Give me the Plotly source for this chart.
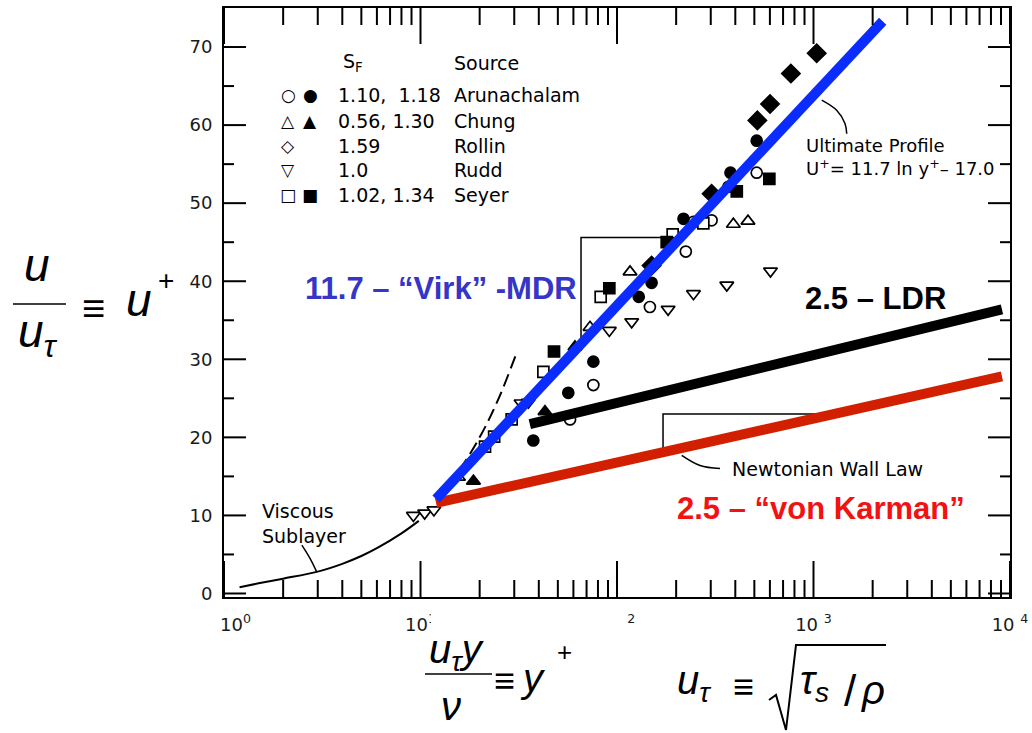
import numpy as np
import plotly.graph_objects as go

W, H = 1032, 733
L, R, T, B = 224, 22, 8, 136
PW, PH = W - L - R, H - T - B

# ---------------- measured profiles: y+ = u_tau*y/nu , u+ = u/u_tau ----------------
arun_open_x = [57.7, 75.8, 147, 224, 245, 303, 369, 514]
arun_open_y = [22.3, 26.7, 36.7, 43.8, 47.6, 47.8, 52.1, 53.9]
arun_fill_x = [37.5, 56.5, 75.8, 129, 150, 218, 303, 378, 514]
arun_fill_y = [19.6, 25.7, 29.7, 38.0, 39.8, 48.0, 51.2, 53.9, 58.0]

chung_open_x = [15.6, 72.9, 116.5, 391, 464]
chung_open_y = [14.9, 34.1, 41.2, 47.3, 47.7]
chung_fill_x = [18.6, 43.0, 61.1]
chung_fill_y = [14.4, 23.3, 31.6]

rollin_x = [150, 303, 518, 601, 767, 1038]
rollin_y = [42.0, 51.2, 60.6, 62.7, 66.6, 69.2]

rudd_x = [9.2, 10.5, 11.7, 32.5, 35.4, 91.4, 118.8, 182, 245, 362, 604]
rudd_y = [10.0, 10.3, 10.7, 24.4, 24.5, 33.7, 34.8, 36.4, 38.4, 39.5, 41.3]

seyer_open_x = [21.3, 23.7, 29.1, 42.2, 82.6, 192, 275]
seyer_open_y = [18.8, 20.1, 22.3, 28.4, 38.0, 46.0, 47.4]
seyer_fill_x = [47.8, 91.4, 179, 407, 596]
seyer_fill_y = [31.0, 39.1, 45.0, 51.5, 53.1]

# ---------------- reference laws ----------------
visc_x = [1.2, 1.5, 2, 3, 4, 5, 6, 8, 9.8]
visc_y = [0.8, 1.3, 1.9, 2.8, 3.8, 4.8, 5.8, 7.7, 9.3]
visc_ext_x = [12, 15, 20, 25, 30.5]
visc_ext_y = [12, 15, 20, 25, 30.5]
mdr_x = [12, 2250]          # u+ = 11.7 ln y+ - 17.0
mdr_y = [12.1, 73.3]
ldr_x = [36, 9100]
ldr_y = [21.7, 36.4]
vk_x = [12, 9100]           # Newtonian wall law
vk_y = [11.6, 27.8]

# slope triangles and leader strokes
mdr_tri_x = [195, 65.6, 65.6]
mdr_tri_y = [45.6, 45.6, 31.9]
vk_tri_x = [1213, 171.5, 171.5]
vk_tri_y = [23.0, 23.0, 18.1]
lead_visc_x = [2.49, 2.74, 2.96]
lead_visc_y = [6.2, 4.5, 2.8]
lead_ult_x = [1101, 1312, 1446, 1476]
lead_ult_y = [63.2, 61.9, 60.2, 58.9]
lead_newt_x = [213.5, 264.6, 334.4]
lead_newt_y = [17.7, 16.4, 16.0]

# axis ranges and ticks
X_LOG_RANGE = [0, 4]
Y_RANGE = [-0.45, 75]
x_tick_vals = [1, 10, 100, 1000, 10000]
x_tick_text = ["\u00a0\u00a0\u00a0\u00a010<sup>0</sup>", "10<sup>1</sup>", "10 <sup>2</sup>",
               "10 <sup>3</sup>", "10 <sup>4</sup>"]
x_minor_vals = [m * 10 ** k for k in range(4) for m in range(2, 10)]
y_major_vals = list(range(0, 71, 10))
y_minor_vals = list(range(5, 71, 10))

# legend table
legend_rows = [
    ("○", "●", "1.10,  1.18", "Arunachalam"),
    ("△", "▲", "0.56, 1.30", "Chung"),
    ("◇", "", "1.59", "Rollin"),
    ("▽", "", "1.0", "Rudd"),
    ("□", "■", "1.02, 1.34", "Seyer"),
]
legend_row_px = [95, 121.5, 146, 170, 195]

SCAN = "DejaVu Sans"
SANS = "Liberation Sans"

fig = go.Figure()


def markers(x, y, symbol, fill, size):
    fig.add_trace(go.Scatter(
        x=x, y=y, mode="markers", hoverinfo="skip", showlegend=False,
        marker=dict(symbol=symbol, size=size, color=fill,
                    line=dict(color="black", width=1.7))))


def curve(x, y, color, width, dash=None, shape="linear"):
    fig.add_trace(go.Scatter(
        x=x, y=y, mode="lines", hoverinfo="skip", showlegend=False,
        line=dict(color=color, width=width, dash=dash, shape=shape)))


# viscous sublayer and its extension
curve(visc_x, visc_y, "black", 2, shape="spline")
curve(visc_ext_x, visc_ext_y, "black", 2, dash="13px,6px", shape="spline")

# data sets
markers(arun_open_x, arun_open_y, "circle", "white", 11)
markers(arun_fill_x, arun_fill_y, "circle", "black", 11)
markers(chung_open_x, chung_open_y, "triangle-up", "white", 12)
markers(chung_fill_x, chung_fill_y, "triangle-up", "black", 12)
markers(rollin_x, rollin_y, "diamond", "black", 14)
markers(rudd_x, rudd_y, "triangle-down", "white", 12)
markers(seyer_open_x, seyer_open_y, "square", "white", 11)
markers(seyer_fill_x, seyer_fill_y, "square", "black", 11)

# slope markers and leaders
curve(mdr_tri_x, mdr_tri_y, "black", 1.5)
curve(vk_tri_x, vk_tri_y, "black", 1.5)
curve(lead_visc_x, lead_visc_y, "black", 1.5, shape="spline")
curve(lead_ult_x, lead_ult_y, "black", 1.5, shape="spline")
curve(lead_newt_x, lead_newt_y, "black", 1.5, shape="spline")

# the three log laws
curve(vk_x, vk_y, "#d21f00", 10)
curve(ldr_x, ldr_y, "black", 10)
curve(mdr_x, mdr_y, "#0a2cff", 10)


def xp(px):
    return (px - L) / PW


def yp(py):
    return (H - B - py) / PH


def note(text, px, py, size, color="black", family=SCAN, xanchor="center", yanchor="middle"):
    fig.add_annotation(text=text, x=xp(px), y=yp(py), xref="paper", yref="paper",
                       showarrow=False, xanchor=xanchor, yanchor=yanchor,
                       font=dict(size=size, color=color, family=family))


def data_note(text, xv, yv, size=19):
    fig.add_annotation(text=text, x=np.log10(xv), y=yv, xref="x", yref="y",
                       showarrow=False, xanchor="left", yanchor="middle", align="left",
                       font=dict(size=size, color="black", family=SCAN))


# in-plot captions
data_note("Viscous<br>Sublayer", 1.525, 8.95)
data_note("Ultimate Profile<br>U<sup>+</sup>= 11.7 ln y<sup>+</sup>– 17.0", 895, 55.9, 18)
data_note("Newtonian Wall Law", 376, 15.9)

# legend table
note("S<sub>F</sub>", 341, 63, 19, xanchor="left")
note("Source", 452, 63, 19, xanchor="left")
for (o, f, sf, src), py in zip(legend_rows, legend_row_px):
    note(o, 288, py, 17)
    if f:
        note(f, 310, py, 17)
    note(sf, 336, py, 19, xanchor="left")
    note(src, 452, py, 19, xanchor="left")

# coloured law labels
note("<b>11.7 – “Virk” -MDR</b>", 441, 288, 31, color="#3535c8", family=SANS)
note("<b>2.5 – LDR</b>", 875, 298, 31, color="black", family=SANS)
note("<b>2.5 – “von Karman”</b>", 821, 508, 31, color="#f21212", family=SANS)

# axis quantity definitions
note("<i>u</i>", 37, 265, 46, family=SANS)
note("<i>u</i><sub><i>τ</i></sub>", 38, 334, 46, family=SANS)
note("<b>≡</b>", 93, 308, 40, family=SANS)
note("<i>u</i>", 139, 300, 46, family=SANS)
note("+", 166, 280, 28, family=SANS)

note("<i>u</i><sub><i>τ</i></sub><i>y</i>", 457, 652, 40, family=SANS)
note("<i>ν</i>", 451, 706, 40, family=SANS)
note("<b>≡</b>", 504, 680, 36, family=SANS)
note("<i>y</i>", 533, 678, 40, family=SANS)
note("+", 564, 652, 26, family=SANS)

note("<i>u</i><sub><i>τ</i></sub>", 694, 683, 40, family=SANS)
note("<b>≡</b>", 743, 686, 36, family=SANS)
note("<i>τ</i><sub><i>s</i></sub>", 814, 683, 40, family=SANS)
note("/", 850, 690, 44, family=SANS)
note("<i>ρ</i>", 873, 690, 40, family=SANS)

radical = [(769, 700), (776, 695), (786, 730), (796, 645), (886, 645)]
shapes = [
    # white patch behind the y+ definition
    dict(type="rect", xref="paper", yref="paper", x0=xp(431), x1=xp(627), y0=yp(733), y1=yp(603),
         fillcolor="white", line=dict(width=0), layer="above"),
    dict(type="line", xref="paper", yref="paper", x0=xp(13), x1=xp(66), y0=yp(304), y1=yp(304),
         line=dict(color="black", width=1.5), layer="above"),
    dict(type="line", xref="paper", yref="paper", x0=xp(425), x1=xp(492), y0=yp(674), y1=yp(674),
         line=dict(color="black", width=1.5), layer="above"),
    dict(type="path", xref="paper", yref="paper",
         path="M " + " L ".join(f"{xp(a):.5f},{yp(b):.5f}" for a, b in radical),
         line=dict(color="black", width=2), layer="above"),
]


# inward tick marks on all four sides of the frame
def x_ticks(vals, length_px, width):
    for v in vals:
        xf = (np.log10(v) - X_LOG_RANGE[0]) / (X_LOG_RANGE[1] - X_LOG_RANGE[0])
        h = length_px / PH
        for y0, y1 in ((0, h), (1, 1 - h)):
            shapes.append(dict(type="line", xref="paper", yref="paper", x0=xf, x1=xf, y0=y0, y1=y1,
                               line=dict(color="black", width=width), layer="above"))


def y_ticks(vals, length_px, width):
    for v in vals:
        w = length_px / PW
        for x0, x1 in ((0, w), (1, 1 - w)):
            shapes.append(dict(type="line", xref="paper", yref="y", x0=x0, x1=x1, y0=v, y1=v,
                               line=dict(color="black", width=width), layer="above"))


x_ticks(x_tick_vals, 36, 2)
x_ticks(x_minor_vals, 17, 2)
y_ticks(y_major_vals, 22, 2)
y_ticks(y_minor_vals, 10, 2)

tick_font = dict(family=SCAN, size=18, color="#1a1a1a")

fig.update_layout(
    width=W, height=H,
    margin=dict(l=L, r=R, t=T, b=B, autoexpand=False),
    paper_bgcolor="white", plot_bgcolor="white",
    shapes=shapes,
    showlegend=False,
    xaxis=dict(
        type="log", range=X_LOG_RANGE, automargin=False,
        showline=True, linecolor="black", linewidth=2, mirror=True,
        ticks="", tickmode="array", tickvals=x_tick_vals, ticktext=x_tick_text,
        showgrid=False, zeroline=False, ticklabelstandoff=10, tickfont=tick_font,
    ),
    yaxis=dict(
        range=Y_RANGE, dtick=10, tick0=0, automargin=False,
        showline=True, linecolor="black", linewidth=2, mirror=True,
        ticks="", showgrid=False, zeroline=False, ticklabelstandoff=6, tickfont=tick_font,
    ),
)

fig.write_html("out.html")
